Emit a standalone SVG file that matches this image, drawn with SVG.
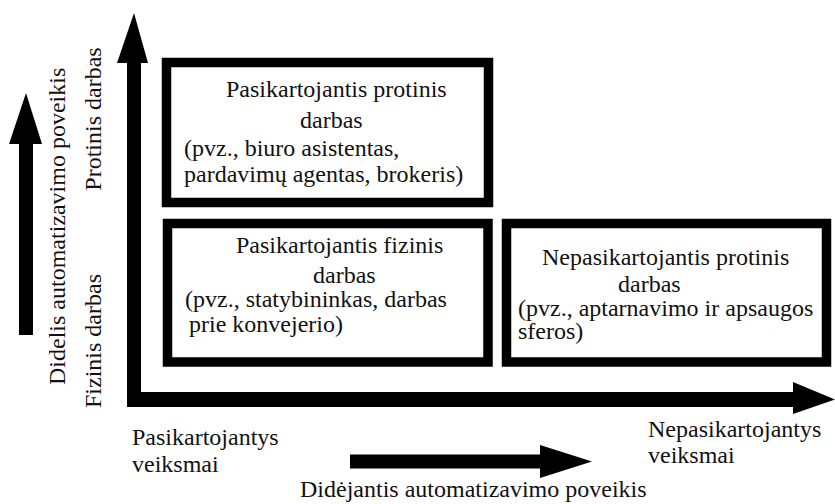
<svg xmlns="http://www.w3.org/2000/svg" width="835" height="504" viewBox="0 0 835 504">
<style>
text{font-family:"Liberation Serif","Times New Roman",serif;font-size:24px;fill:#111}
.box{fill:#fff;stroke:#000;stroke-width:9.5}
.ar{fill:#000}
</style>
<rect width="835" height="504" fill="#fff"/>
<g id="connectors">
<g id="y-axis">
<rect class="ar" x="127" y="60" width="14" height="347"/>
<polygon class="ar" points="134,13 148,63 117,63"/>
</g>
<g id="x-axis">
<rect class="ar" x="127" y="392" width="668" height="15"/>
<polygon class="ar" points="835,399.5 793,382 793,414"/>
</g>
<g id="left-arrow">
<rect class="ar" x="19" y="140" width="14" height="195"/>
<polygon class="ar" points="26,93 42,144 9,144"/>
</g>
<g id="bottom-arrow">
<rect class="ar" x="350" y="454.5" width="192" height="14"/>
<polygon class="ar" points="592,461.5 540,445 540,478"/>
</g>
</g>
<g id="box-protinis">
<rect class="box" x="166.5" y="62.5" width="322" height="140"/>
<text x="226" y="97">Pasikartojantis protinis</text>
<text x="300" y="128">darbas</text>
<text x="184" y="156">(pvz., biuro asistentas,</text>
<text x="184" y="182">pardavimų agentas, brokeris)</text>
</g>
<g id="box-fizinis">
<rect class="box" x="167.5" y="223.5" width="320.5" height="138.5"/>
<text x="236" y="253">Pasikartojantis fizinis</text>
<text x="313" y="283">darbas</text>
<text x="185" y="307">(pvz., statybininkas, darbas</text>
<text x="189" y="332">prie konvejerio)</text>
</g>
<g id="box-nepasikartojantis">
<rect class="box" x="506.5" y="223.5" width="320" height="138.5"/>
<text x="542" y="265">Nepasikartojantis protinis</text>
<text x="618" y="292">darbas</text>
<text x="518" y="316">(pvz., aptarnavimo ir apsaugos</text>
<text x="518" y="339">sferos)</text>
</g>
<g id="labels">
<text transform="translate(65,385) rotate(-90)">Didelis automatizavimo poveikis</text>
<text transform="translate(101,119) rotate(-90)" text-anchor="middle">Protinis darbas</text>
<text transform="translate(101,341) rotate(-90)" text-anchor="middle">Fizinis darbas</text>
<text x="132" y="445">Pasikartojantys</text>
<text x="132" y="472">veiksmai</text>
<text x="648" y="437">Nepasikartojantys</text>
<text x="648" y="463">veiksmai</text>
<text x="300" y="497">Didėjantis automatizavimo poveikis</text>
</g>
</svg>
